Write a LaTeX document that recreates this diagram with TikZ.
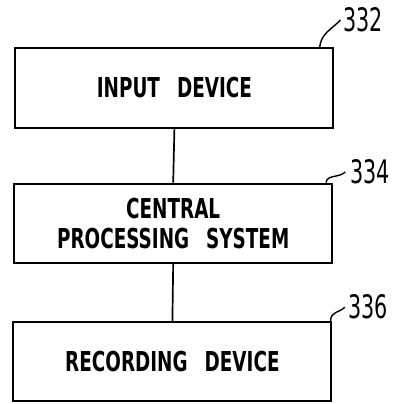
\documentclass[tikz,border=0pt]{standalone}
\usepackage{fontspec}
\newfontfamily\patentfont{DejaVu Sans}[FakeStretch=0.67]
\newfontfamily\numfont{DejaVu Sans}[FakeStretch=0.64]
\newcommand{\wgap}{\hspace{0.62em}}
\usetikzlibrary{positioning}

\begin{document}
\begin{tikzpicture}[
  blockbox/.style={draw,line width=1.5pt,minimum width=7.95cm,minimum height=1.98cm,
    align=center,font=\patentfont\fontsize{19.5}{21.5}\selectfont\bfseries},
  reflabel/.style={font=\numfont\fontsize{23}{26}\selectfont,inner sep=0pt},
  leader/.style={line width=1pt},
  linkline/.style={line width=1.2pt}
]
  \useasboundingbox (0,0) rectangle (9.8,10.1);

  % Blocks
  \node[blockbox] (input) at (4.36,7.9) {INPUT\wgap DEVICE};
  \node[blockbox] (cps) at (4.33,4.52) {CENTRAL\\PROCESSING\wgap SYSTEM};
  \node[blockbox] (rec) at (4.31,1.06) {RECORDING\wgap DEVICE};

  % Links
  \draw[linkline] (input.south) -- (cps.north);
  \draw[linkline] (cps.south) -- (rec.north);

  % Reference numerals
  \node[reflabel,anchor=west] (n332) at (8.58,9.6) {332};
  \node[reflabel,anchor=west] (n334) at (8.75,5.8) {334};
  \node[reflabel,anchor=west] (n336) at (8.7,2.42) {336};

  % Leader lines
  \draw[leader] ([xshift=-0.37cm]input.north east) .. controls +(0.03,0.35) and +(-0.2,-0.22) .. ([xshift=-0.07cm]n332.west);
  \draw[leader] ([xshift=-0.18cm]cps.north east) .. controls +(0.02,0.2) and +(-0.15,-0.15) .. ([xshift=-0.12cm]n334.west);
  \draw[leader] ([xshift=-0.05cm]rec.north east) .. controls +(0.02,0.25) and +(-0.15,-0.15) .. ([xshift=-0.08cm]n336.west);
\end{tikzpicture}
\end{document}
